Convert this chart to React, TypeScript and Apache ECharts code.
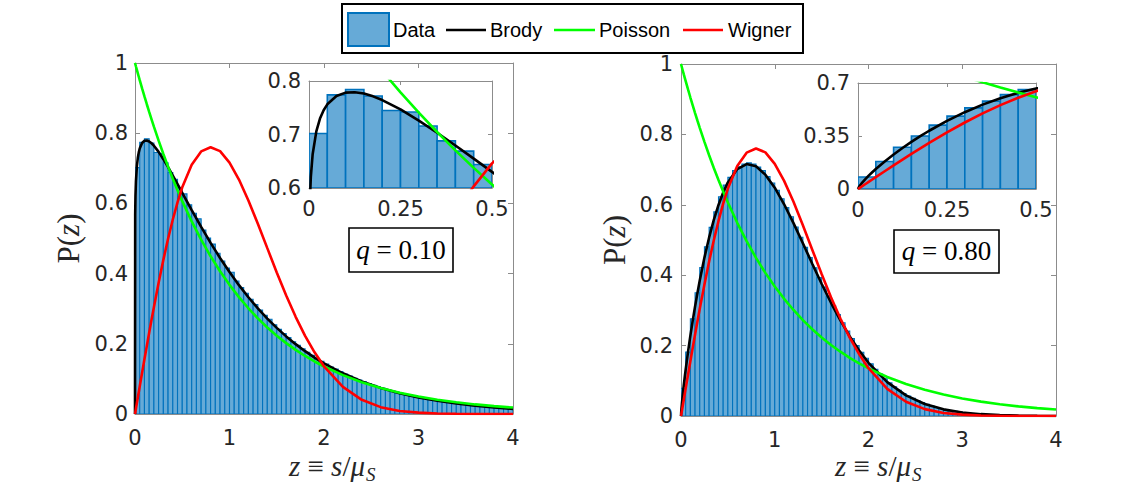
import React, { useEffect, useRef } from "react";
import * as echarts from "echarts";

// ---------------- data ----------------
const BIN_WIDTH = 0.05;

// histogram bar heights, left panel (q = 0.10), bins of width 0.05 from 0 to 4
const histLeft = [
  0.702, 0.774, 0.784, 0.772, 0.745, 0.742, 0.716, 0.688, 0.669, 0.644,
  0.627, 0.596, 0.572, 0.556, 0.524, 0.501, 0.484, 0.458, 0.436, 0.416,
  0.404, 0.379, 0.36, 0.344, 0.327, 0.312, 0.296, 0.281, 0.27, 0.254,
  0.241, 0.229, 0.218, 0.206, 0.196, 0.186, 0.176, 0.167, 0.158, 0.15,
  0.142, 0.134, 0.128, 0.121, 0.114, 0.108, 0.102, 0.097, 0.092, 0.087,
  0.082, 0.077, 0.073, 0.069, 0.065, 0.062, 0.058, 0.055, 0.052, 0.049,
  0.046, 0.044, 0.041, 0.039, 0.037, 0.035, 0.033, 0.031, 0.029, 0.027,
  0.026, 0.024, 0.023, 0.022, 0.02, 0.019, 0.018, 0.017, 0.016, 0.015,
];

// histogram bar heights, right panel (q = 0.80)
const histRight = [
  0.079, 0.182, 0.276, 0.35, 0.422, 0.481, 0.536, 0.58, 0.623, 0.656,
  0.678, 0.697, 0.708, 0.716, 0.719, 0.716, 0.707, 0.697, 0.68, 0.662,
  0.641, 0.617, 0.592, 0.566, 0.537, 0.508, 0.479, 0.45, 0.421, 0.393,
  0.366, 0.339, 0.313, 0.288, 0.265, 0.241, 0.22, 0.2, 0.181, 0.164,
  0.148, 0.133, 0.119, 0.106, 0.094, 0.083, 0.073, 0.064, 0.057, 0.05,
  0.043, 0.038, 0.033, 0.028, 0.024, 0.021, 0.018, 0.015, 0.013, 0.011,
  0.009, 0.008, 0.007, 0.006, 0.005, 0.004, 0.003, 0.003, 0.002, 0.002,
  0.0015, 0.0012, 0.001, 0.0008, 0.0006, 0.0005, 0.0004, 0.0003, 0.0003, 0.0002,
];

// curve sample positions
const curveX = [
  0, 0.002, 0.005, 0.01, 0.02, 0.03, 0.04, 0.05, 0.075, 0.1,
  0.125, 0.15, 0.175, 0.2, 0.25, 0.3, 0.35, 0.4, 0.45, 0.5,
  0.6, 0.7, 0.8, 0.9, 1.0, 1.1, 1.2, 1.3, 1.4, 1.5,
  1.6, 1.7, 1.8, 1.9, 2.0, 2.2, 2.4, 2.6, 2.8, 3.0,
  3.2, 3.4, 3.6, 3.8, 4.0,
];

const brodyLeft = [
  0, 0.5675, 0.6208, 0.6632, 0.7059, 0.7298, 0.7454, 0.7564, 0.7721, 0.7783,
  0.7791, 0.7765, 0.7713, 0.7644, 0.7468, 0.726, 0.7033, 0.6794, 0.6549, 0.6301,
  0.5808, 0.5331, 0.4875, 0.4445, 0.4043, 0.3671, 0.3327, 0.3009, 0.2719, 0.2453,
  0.2211, 0.199, 0.179, 0.1608, 0.1443, 0.116, 0.093, 0.0744, 0.0593, 0.0472,
  0.0375, 0.0297, 0.0235, 0.0186, 0.0147,
];

const brodyRight = [
  0, 0.0101, 0.021, 0.0366, 0.0638, 0.0881, 0.1108, 0.1322, 0.1822, 0.2282,
  0.271, 0.3112, 0.3491, 0.3847, 0.45, 0.5073, 0.5571, 0.5995, 0.6351, 0.6636,
  0.7015, 0.7158, 0.7093, 0.6857, 0.6486, 0.6015, 0.5478, 0.4907, 0.4325, 0.3756,
  0.3216, 0.2715, 0.2261, 0.1861, 0.1511, 0.0962, 0.0585, 0.034, 0.0189, 0.0101,
  0.0052, 0.0025, 0.0012, 0.0005, 0.0002,
];

const poisson = [
  1, 0.998, 0.995, 0.99, 0.9802, 0.9704, 0.9608, 0.9512, 0.9277, 0.9048,
  0.8825, 0.8607, 0.8395, 0.8187, 0.7788, 0.7408, 0.7047, 0.6703, 0.6376, 0.6065,
  0.5488, 0.4966, 0.4493, 0.4066, 0.3679, 0.3329, 0.3012, 0.2725, 0.2466, 0.2231,
  0.2019, 0.1827, 0.1653, 0.1496, 0.1353, 0.1108, 0.0907, 0.0743, 0.0608, 0.0498,
  0.0408, 0.0334, 0.0273, 0.0224, 0.0183,
];

const wigner = [
  0, 0.0031, 0.0079, 0.0157, 0.0314, 0.0471, 0.0628, 0.0784, 0.1173, 0.1558,
  0.194, 0.2315, 0.2684, 0.3044, 0.3739, 0.4391, 0.4993, 0.5541, 0.6031, 0.646,
  0.7103, 0.7482, 0.7601, 0.749, 0.7162, 0.6679, 0.6085, 0.542, 0.4725, 0.4034,
  0.3375, 0.2768, 0.2227, 0.1758, 0.1358, 0.0771, 0.0404, 0.0195, 0.0087, 0.004,
  0.0016, 0.0006, 0.0002, 0.0001, 0,
];

const panelLabels = ["0.10", "0.80"];
const legendNames = ["Data", "Brody", "Poisson", "Wigner"];
const xTitleMain = "{i|z} \u2261 {i|s}/{i|\u03bc}";
const xTitleSub = "S";
const yTitle = "P({i|z})";

// ---------------- styling ----------------
const AXIS_GRAY = "#8c8c8c";
const TEXT = "#262626";
const BAR_FILL = "#66aad7";
const BAR_EDGE = "#0072bd";
const COL_BRODY = "#000000";
const COL_POISSON = "#00ff00";
const COL_WIGNER = "#ff0000";
const SANS = "DejaVu Sans";
const SERIF = "Liberation Serif";
const MATH_SIZE = 29;

type GridSpec = {
  left: number; top: number; width: number; height: number;
  xMin: number; xMax: number; xInt: number;
  yMin: number; yMax: number; yInt: number;
  xMargin: number; yMargin: number; main: boolean;
};

const grids: GridSpec[] = [
  { left: 135, top: 63, width: 378, height: 351, xMin: 0, xMax: 4, xInt: 1, yMin: 0, yMax: 1, yInt: 0.2, xMargin: 14, yMargin: 7, main: true },
  { left: 309, top: 81, width: 183, height: 107, xMin: 0, xMax: 0.5, xInt: 0.25, yMin: 0.6, yMax: 0.8, yInt: 0.1, xMargin: 11, yMargin: 8, main: false },
  { left: 681, top: 64, width: 375, height: 352, xMin: 0, xMax: 4, xInt: 1, yMin: 0, yMax: 1, yInt: 0.2, xMargin: 14, yMargin: 8, main: true },
  { left: 858, top: 83, width: 178, height: 106, xMin: 0, xMax: 0.5, xInt: 0.25, yMin: 0, yMax: 0.7, yInt: 0.35, xMargin: 11, yMargin: 8, main: false },
];

function buildOption() {
  const gridOpts: any[] = [];
  const xAxes: any[] = [];
  const yAxes: any[] = [];
  const series: any[] = [];

  grids.forEach((g, gi) => {
    gridOpts.push({
      left: g.left, top: g.top, width: g.width, height: g.height,
      containLabel: false, outerBoundsMode: "none",
      show: true, backgroundColor: "#ffffff", borderWidth: 0,
    });
    const axisLine = { show: true, onZero: false, lineStyle: { color: AXIS_GRAY, width: 1 } };
    const axisTick = { show: true, inside: true, length: g.main ? 5 : 4, lineStyle: { color: AXIS_GRAY, width: 1 } };
    const label = { color: TEXT, fontSize: 21, fontFamily: SANS, lineHeight: 20 };
    const xBottom: any = {
      type: "value", gridIndex: gi, position: "bottom", min: g.xMin, max: g.xMax, interval: g.xInt,
      axisLine, axisTick, splitLine: { show: false },
      axisLabel: { ...label, margin: g.xMargin },
    };
    const yLeft: any = {
      type: "value", gridIndex: gi, position: "left", min: g.yMin, max: g.yMax, interval: g.yInt,
      axisLine, axisTick, splitLine: { show: false },
      axisLabel: { ...label, margin: g.yMargin },
    };
    if (g.main) {
      yLeft.name = yTitle;
      yLeft.nameLocation = "middle";
      yLeft.nameRotate = 90;
      yLeft.nameGap = 51;
      yLeft.nameTextStyle = {
        fontFamily: SERIF, fontSize: 31, color: TEXT,
        rich: { i: { fontFamily: SERIF, fontSize: 31, fontStyle: "italic", color: TEXT } },
      };
    }
    xAxes.push(xBottom);
    xAxes.push({
      type: "value", gridIndex: gi, position: "top", min: g.xMin, max: g.xMax, interval: g.xInt,
      axisLine, axisTick, axisLabel: { show: false }, splitLine: { show: false },
    });
    yAxes.push(yLeft);
    yAxes.push({
      type: "value", gridIndex: gi, position: "right", min: g.yMin, max: g.yMax, interval: g.yInt,
      axisLine, axisTick, axisLabel: { show: false }, splitLine: { show: false },
    });

    const hist = gi < 2 ? histLeft : histRight;
    const brody = gi < 2 ? brodyLeft : brodyRight;
    const base = g.yMin;
    const histData = hist
      .map((h, i) => [i * BIN_WIDTH, (i + 1) * BIN_WIDTH, h])
      .filter((d) => d[1] <= g.xMax + 1e-9);
    const edgeW = g.main ? 1.1 : 1.6;

    series.push({
      type: "custom",
      name: legendNames[0],
      xAxisIndex: gi * 2,
      yAxisIndex: gi * 2,
      clip: true,
      silent: true,
      z: 1,
      data: histData,
      encode: { x: [0, 1], y: 2 },
      renderItem: (_params: any, api: any) => {
        const x0 = api.value(0);
        const x1 = api.value(1);
        const h = api.value(2);
        if (h <= base) return { type: "group", children: [] };
        const p0 = api.coord([x0, h]);
        const p1 = api.coord([x1, base]);
        return {
          type: "rect",
          shape: { x: p0[0], y: p0[1], width: p1[0] - p0[0], height: p1[1] - p0[1] },
          style: { fill: BAR_FILL, stroke: BAR_EDGE, lineWidth: edgeW },
        };
      },
    });

    const lines: [string, number[], string][] = [
      [legendNames[1], brody, COL_BRODY],
      [legendNames[2], poisson, COL_POISSON],
      [legendNames[3], wigner, COL_WIGNER],
    ];
    lines.forEach(([name, ys, color], li) => {
      series.push({
        type: "line",
        name,
        xAxisIndex: gi * 2,
        yAxisIndex: gi * 2,
        data: curveX.map((x, i) => [x, ys[i]]),
        symbol: "none",
        showSymbol: false,
        smooth: false,
        clip: true,
        silent: true,
        z: 3 + li,
        lineStyle: { color, width: 2.6 },
      });
    });
  });

  const graphic: any[] = [];

  // x-axis titles (z ≡ s/μ_S)
  const xTitleEnds = [365, 911];
  xTitleEnds.forEach((xe) => {
    graphic.push({
      type: "text", z: 50, x: xe, y: 466,
      style: {
        text: xTitleMain, fill: TEXT,
        font: `${MATH_SIZE}px "${SERIF}"`,
        lineHeight: 29,
        align: "right", verticalAlign: "middle",
        rich: { i: { fontFamily: SERIF, fontSize: MATH_SIZE, fontStyle: "italic", fill: TEXT, lineHeight: 29 } },
      },
    });
    graphic.push({
      type: "text", z: 50, x: xe + 1, y: 474,
      style: {
        text: xTitleSub, fill: TEXT,
        font: `italic 19px "${SERIF}"`,
        lineHeight: 16,
        align: "left", verticalAlign: "middle",
      },
    });
  });

  // q boxes
  const qBoxes = [
    { x: 349, y: 228, w: 104, h: 44, cx: 401, cy: 250 },
    { x: 894, y: 230, w: 105, h: 43, cx: 946.5, cy: 251 },
  ];
  qBoxes.forEach((b, i) => {
    graphic.push({
      type: "rect", z: 100,
      shape: { x: b.x, y: b.y, width: b.w, height: b.h },
      style: { fill: "#ffffff", stroke: "#000000", lineWidth: 1.6 },
    });
    graphic.push({
      type: "text", z: 101, x: b.cx, y: b.cy,
      style: {
        text: "{i|q} = " + panelLabels[i],
        fill: "#000000",
        font: `27px "${SERIF}"`,
        align: "center", verticalAlign: "middle",
        rich: { i: { fontFamily: SERIF, fontSize: 27, fontStyle: "italic", fill: "#000000" } },
      },
    });
  });

  // legend
  const LY = 30;
  graphic.push({
    type: "rect", z: 100,
    shape: { x: 342, y: 4, width: 461, height: 49 },
    style: { fill: "#ffffff", stroke: "#000000", lineWidth: 2 },
  });
  graphic.push({
    type: "rect", z: 101,
    shape: { x: 348, y: 13, width: 41, height: 33 },
    style: { fill: BAR_FILL, stroke: BAR_EDGE, lineWidth: 2 },
  });
  const legendLines: [number, number, string][] = [
    [446, 486, COL_BRODY],
    [554, 595, COL_POISSON],
    [683, 723, COL_WIGNER],
  ];
  legendLines.forEach(([x1, x2, c]) => {
    graphic.push({
      type: "line", z: 101,
      shape: { x1, y1: LY, x2, y2: LY },
      style: { stroke: c, lineWidth: 2.6 },
    });
  });
  const legendTextX = [393, 490, 599, 728];
  legendNames.forEach((n, i) => {
    graphic.push({
      type: "text", z: 101, x: legendTextX[i], y: LY,
      style: {
        text: n, fill: "#000000", font: `20px "Liberation Sans"`,
        align: "left", verticalAlign: "middle",
      },
    });
  });

  return {
    animation: false,
    backgroundColor: "#ffffff",
    grid: gridOpts,
    xAxis: xAxes,
    yAxis: yAxes,
    series,
    graphic,
  };
}

export default function App() {
  const ref = useRef<HTMLDivElement>(null);
  useEffect(() => {
    document.body.style.margin = "0";
    const el = ref.current;
    if (!el) return;
    const chart = echarts.init(el, null, { renderer: "svg", width: 1125, height: 483 });
    chart.setOption(buildOption() as any);
    return () => {
      chart.dispose();
    };
  }, []);
  return (
    <div
      ref={ref}
      style={{ position: "absolute", left: 0, top: 0, width: 1125, height: 483, background: "#fff" }}
    />
  );
}
